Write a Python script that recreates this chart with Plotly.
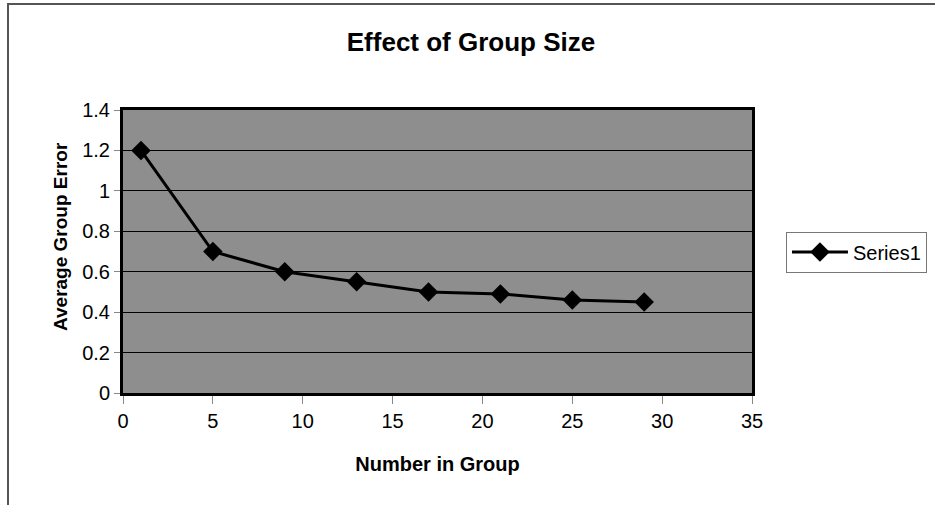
import plotly.graph_objects as go

# Group size vs. average error
group_size = [1, 5, 9, 13, 17, 21, 25, 29]
avg_error = [1.2, 0.7, 0.6, 0.55, 0.5, 0.49, 0.46, 0.45]
y_ticks = [0, 0.2, 0.4, 0.6, 0.8, 1, 1.2, 1.4]
y_tick_text = ["0", "0.2", "0.4", "0.6", "0.8", "1", "1.2", "1.4"]
x_ticks = [0, 5, 10, 15, 20, 25, 30, 35]

fig = go.Figure()
fig.add_trace(go.Scatter(
    x=group_size, y=avg_error, mode="lines+markers", name="Series1",
    line=dict(color="black", width=3),
    marker=dict(symbol="diamond", size=15, color="black"),
))

font = "Liberation Sans, Arial, sans-serif"
fig.update_layout(
    width=935, height=505,
    margin=dict(l=123, r=183, t=110, b=112, autoexpand=False),
    paper_bgcolor="white",
    plot_bgcolor="#8e8e8e",
    font=dict(family=font, size=20, color="black"),
    title=dict(text="<b>Effect of Group Size</b>", x=471 / 935, xanchor="center",
               xref="container",
               y=1 - 42 / 505, yanchor="middle", font=dict(size=26)),
    showlegend=True,
    legend=dict(x=1.054, xanchor="left", y=0.498, yanchor="middle",
                bordercolor="#777", borderwidth=1, bgcolor="white",
                font=dict(size=20), itemwidth=56, tracegroupgap=0),
    xaxis=dict(range=[0, 35], tickvals=x_ticks, showgrid=False, zeroline=False,
               showline=True, linecolor="black", linewidth=3, mirror=True,
               ticks="outside", ticklen=8, tickcolor="#888", tickwidth=1,
               title=dict(text="<b>Number in Group</b>", standoff=26,
                          font=dict(size=20))),
    yaxis=dict(range=[0, 1.4], tickvals=y_ticks, ticktext=y_tick_text,
               showgrid=True, gridcolor="black", gridwidth=1, zeroline=False,
               showline=True, linecolor="black", linewidth=3, mirror=True,
               ticks="outside", ticklen=6, tickcolor="#888", tickwidth=1),
    annotations=[dict(text="<b>Average Group Error</b>", textangle=-90,
                      xref="paper", yref="paper",
                      x=(60 - 123) / 629, y=(393 - 237) / 283,
                      xanchor="center", yanchor="middle", showarrow=False,
                      font=dict(size=19))],
    shapes=[dict(type="rect", xref="paper", yref="paper",
                 x0=(8 - 123) / 629, x1=(945 - 123) / 629,
                 y0=(393 - 515) / 283, y1=(393 - 4) / 283,
                 line=dict(color="#555", width=2), fillcolor="rgba(0,0,0,0)",
                 layer="below")],
)

fig.write_html("out.html")
